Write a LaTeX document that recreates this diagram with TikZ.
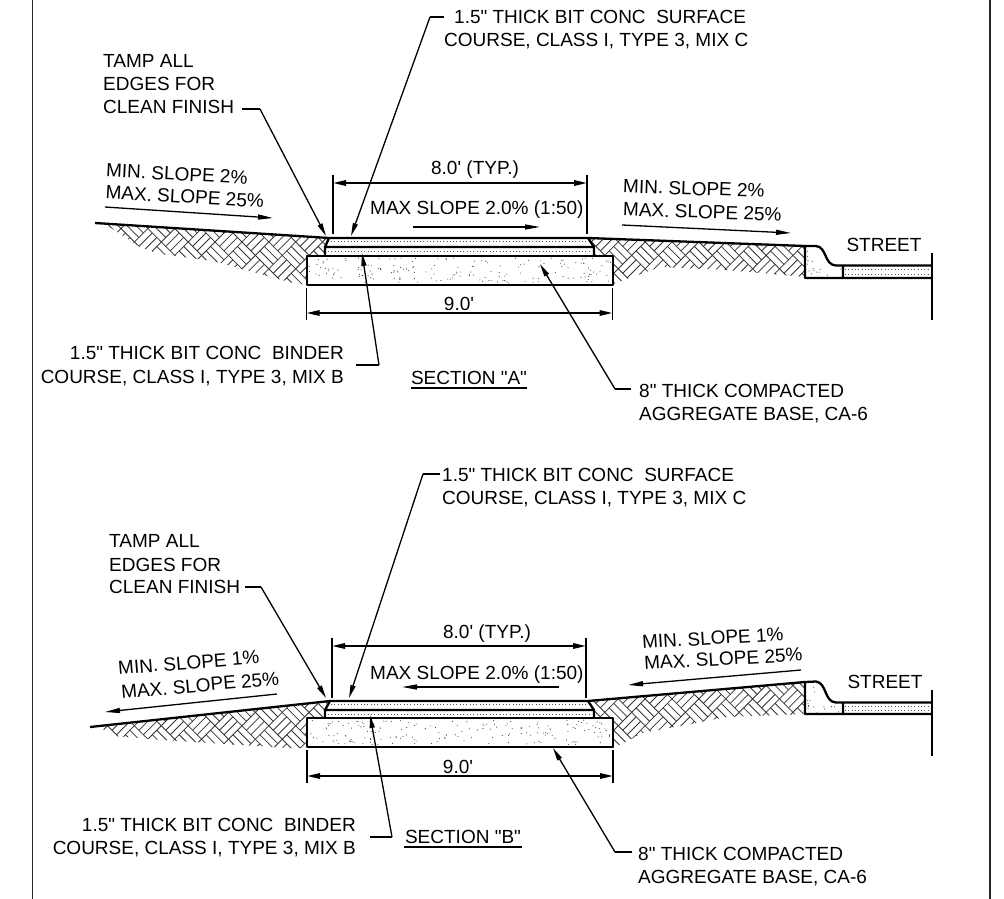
\documentclass[tikz,border=0pt]{standalone}
\usepackage{fontspec}
\usetikzlibrary{arrows.meta}
\newfontfamily\labfont{Liberation Sans}
\tikzset{
  x=1pt,y=-1pt,
  lab/.style={font=\labfont\fontsize{19}{23}\selectfont,inner sep=0pt,text height=13.6pt,text depth=0pt,text=black},
  lw/.style={lab,anchor=west},
  le/.style={lab,anchor=east},
  lc/.style={lab,anchor=center},
  heavy/.style={line width=2.3pt,black,line join=round},
  medium/.style={line width=1.3pt,black},
  thin line/.style={line width=1.1pt,black},
  hatchline/.style={line width=.8pt,black!80},
  dots/.style={line width=.9pt,black!65,dash pattern=on .9pt off 2.4pt},
  leader/.style={line width=1.3pt,black,-{Stealth[length=13pt,width=5pt,inset=0pt]}},
  plain/.style={line width=1.3pt,black},
  sl/.style={line width=1.3pt,black,-{Stealth[length=15pt,width=5pt,inset=0pt]}},
  dim/.style={line width=1.7pt,black,{Stealth[length=13pt,width=5.5pt,inset=0pt]}-{Stealth[length=13pt,width=5.5pt,inset=0pt]}},
}
\def\cc{13.44}
\newcommand{\soil}[4]{%
  \foreach \p in {#1,...,#2}{\foreach \q in {#3,...,#4}{
    \ifodd\numexpr\p+\q\relax\else
      \ifodd\p\relax
        \foreach \t in {0,0.333,0.667,1}
          \draw[hatchline,shift={({\p*\cc},{\q*\cc})}] ({\t*\cc},{-\t*\cc})--({\t*\cc+\cc},{-\t*\cc+\cc});
      \else
        \foreach \t in {0,0.333,0.667,1}
          \draw[hatchline,shift={({\p*\cc},{\q*\cc})}] ({\t*\cc},{\t*\cc})--({\t*\cc+\cc},{\t*\cc-\cc});
      \fi
    \fi
  }}}
% sand: #1 x, #2 y, #3 w, #4 h, #5 count
\newcommand{\sand}[5]{%
  \foreach \k in {1,...,#5}{
    \pgfmathsetmacro{\sx}{#1+rnd*#3}\pgfmathsetmacro{\sy}{#2+rnd*#4}
    \fill[black!75] (\sx,\sy) circle (.55pt);
  }}
\begin{document}
\begin{tikzpicture}
\pgfmathsetseed{4242}
\useasboundingbox (0,0) rectangle (1004,899);
\fill[white] (0,0) rectangle (1004,899);
% frame
\coordinate (ftl) at (32.5,0); \coordinate (fbl) at (32.5,899);
\coordinate (ftr) at (990,0); \coordinate (fbr) at (990,899);
\draw[line width=1.9pt,black!85] (ftl)--(fbl) (ftr)--(fbr);

% ================= SECTION A =================
\begin{scope}
  \clip (105,224)--(327,237)--(327,257)--(307,257)--(307,285)--(293,283)--(213,261)--(160,254)--(140,247)--cycle;
  \soil{6}{25}{15}{23}
\end{scope}
\begin{scope}
  \clip (588,238)--(805,246)--(805,277)--(727,270)--(660,267)--(613,284)--(594,257)--cycle;
  \soil{42}{61}{15}{23}
\end{scope}
% base and layers
\fill[white] (329,238)--(325,247)--(325,256)--(594,256)--(594,247)--(588,238)--cycle;
\draw[heavy,fill=white] (307,256) rectangle (613,285);
\sand{309}{258}{302}{25}{170}
\draw[dots] (331,241.5)--(586,241.5) (328,251.5)--(592,251.5);
\draw[heavy] (95,223)--(329,238)--(588,238)--(805,246)
   (329,238)--(325,247)--(325,256) (588,238)--(594,247)--(594,256)
   (325,247)--(594,247);
% curb and street
\fill[white] (805,246)--(816,246) .. controls (827,247) and (824,265) .. (836,265.5)--(843,265.5)--(843,278)--(805,278)--cycle;
\sand{807}{250}{8}{27}{9}
\sand{815}{268}{26}{9}{5}
\draw[heavy] (805,246)--(816,246) .. controls (827,247) and (824,265) .. (836,265.5)--(932,265.5)
  (805,246)--(805,278)--(932,278) (843,265.5)--(843,278);
\draw[dots] (845,269.5)--(930,269.5) (845,274)--(930,274);
\coordinate (sa1) at (932,253); \coordinate (sa2) at (932,320);
\draw[thin line] (sa1)--(sa2);
\node[lc] (streetA) at (884,245) {STREET};

% dims
\coordinate (da1t) at (333,175); \coordinate (da1b) at (333,234);
\coordinate (da2t) at (587,175); \coordinate (da2b) at (587,234);
\coordinate (da1) at (333,183); \coordinate (da2) at (587,183);
\draw[thin line] (da1t)--(da1b) (da2t)--(da2b);
\draw[dim] (da1)--(da2);
\node[lc] (typA) at (475,168) {8.0' (TYP.)};
\node[lw] (msA) at (370,208) {MAX SLOPE 2.0\% (1:50)};
\coordinate (maA1) at (413,227); \coordinate (maA2) at (540,227);
\draw[sl] (maA1)--(maA2);
\coordinate (db1t) at (306.5,288); \coordinate (db1b) at (306.5,320);
\coordinate (db2t) at (612.5,288); \coordinate (db2b) at (612.5,320);
\coordinate (db1) at (306.5,313); \coordinate (db2) at (612.5,313);
\draw[thin line] (db1t)--(db1b) (db2t)--(db2b);
\draw[dim] (db1)--(db2);
\node[lc] (nineA) at (459,304) {9.0'};

% slope labels
\node[lw,rotate=-3] (a1) at (106,170) {MIN. SLOPE 2\%};
\node[lw,rotate=-3.2] (a2) at (105.5,192) {MAX. SLOPE 25\%};
\coordinate (asl1) at (105,207); \coordinate (asl2) at (273,218);
\draw[sl] (asl1)--(asl2);
\node[lw,rotate=-1.9] (a3) at (623,186) {MIN. SLOPE 2\%};
\node[lw,rotate=-1.9] (a4) at (623,209) {MAX. SLOPE 25\%};
\coordinate (asr1) at (622,225); \coordinate (asr2) at (791,233);
\draw[sl] (asr1)--(asr2);

% notes
\node[lw] (sfA1) at (454,17) {1.5" THICK BIT CONC\ \ SURFACE};
\node[lw] (sfA2) at (444,40) {COURSE, CLASS I, TYPE 3, MIX C};
\coordinate (sfAa) at (444,17); \coordinate (sfAb) at (430,17); \coordinate (sfAt) at (351,236);
\draw[plain] (sfAa)--(sfAb);
\draw[leader] (sfAb)--(sfAt);
\node[lw] (tA1) at (103,61) {TAMP ALL};
\node[lw] (tA2) at (103,83.5) {EDGES FOR};
\node[lw] (tA3) at (103,107) {CLEAN FINISH};
\coordinate (tAa) at (242,109); \coordinate (tAb) at (260,109); \coordinate (tAt) at (326,236);
\draw[plain] (tAa)--(tAb);
\draw[leader] (tAb)--(tAt);
\node[le] (bA1) at (344,353) {1.5" THICK BIT CONC\ \ BINDER};
\node[le] (bA2) at (344,377) {COURSE, CLASS I, TYPE 3, MIX B};
\coordinate (bAa) at (356,365); \coordinate (bAb) at (379,365); \coordinate (bAt) at (362,253);
\draw[plain] (bAa)--(bAb);
\draw[leader] (bAb)--(bAt);
\node[lc] (secA) at (469,378) {SECTION "A"};
\coordinate (uA1) at (411,388); \coordinate (uA2) at (527,388);
\draw[medium] (uA1)--(uA2);
\node[lw] (cA1) at (639,391) {8" THICK COMPACTED};
\node[lw] (cA2) at (639,414) {AGGREGATE BASE, CA-6};
\coordinate (cAa) at (631,389); \coordinate (cAb) at (615,389); \coordinate (cAt) at (540,264);
\draw[plain] (cAa)--(cAb);
\draw[leader] (cAb)--(cAt);

% ================= SECTION B =================
\begin{scope}
  \clip (100,727)--(327,701)--(327,719)--(307,719)--(307,748)--(287,748)--(163,740)--(113,736)--cycle;
  \soil{6}{25}{49}{57}
\end{scope}
\begin{scope}
  \clip (588,701)--(805,682)--(805,714)--(727,717)--(643,733)--(613,748)--(594,719)--cycle;
  \soil{42}{61}{49}{57}
\end{scope}
\fill[white] (330,701)--(325,710)--(325,718)--(594,718)--(594,710)--(588,701)--cycle;
\draw[heavy,fill=white] (307,718) rectangle (613,747);
\sand{309}{720}{302}{25}{170}
\draw[dots] (331,704.5)--(586,704.5) (328,714)--(592,714);
\draw[heavy] (90,727)--(330,701)--(588,701)--(805,682)
   (330,701)--(325,710)--(325,718) (588,701)--(594,710)--(594,718)
   (325,710)--(594,710);
\fill[white] (805,682)--(816,681.5) .. controls (827,683) and (824,702) .. (836,702.5)--(843,702.5)--(843,714)--(805,714)--cycle;
\sand{807}{686}{8}{27}{9}
\sand{815}{705}{26}{8}{6}
\draw[heavy] (805,682)--(816,681.5) .. controls (827,683) and (824,702) .. (836,702.5)--(932,702.5)
  (805,682)--(805,714)--(932,714) (843,702.5)--(843,714);
\draw[dots] (845,706)--(930,706) (845,710.5)--(930,710.5);
\coordinate (sb1) at (932,690); \coordinate (sb2) at (932,756);
\draw[thin line] (sb1)--(sb2);
\node[lc] (streetB) at (885,682) {STREET};

\coordinate (dc1t) at (332,638); \coordinate (dc1b) at (332,698);
\coordinate (dc2t) at (586,638); \coordinate (dc2b) at (586,698);
\coordinate (dc1) at (332,646); \coordinate (dc2) at (586,646);
\draw[thin line] (dc1t)--(dc1b) (dc2t)--(dc2b);
\draw[dim] (dc1)--(dc2);
\node[lc] (typB) at (487,632) {8.0' (TYP.)};
\node[lw] (msB) at (370,673) {MAX SLOPE 2.0\% (1:50)};
\coordinate (maB1) at (559,687); \coordinate (maB2) at (402,687);
\draw[sl] (maB1)--(maB2);
\coordinate (dd1t) at (307,750); \coordinate (dd1b) at (307,783);
\coordinate (dd2t) at (613,750); \coordinate (dd2b) at (613,783);
\coordinate (dd1) at (307,776); \coordinate (dd2) at (613,776);
\draw[thin line] (dd1t)--(dd1b) (dd2t)--(dd2b);
\draw[dim] (dd1)--(dd2);
\node[lc] (nineB) at (458,767) {9.0'};

\node[lw,rotate=4.6] (b1) at (118,668) {MIN. SLOPE 1\%};
\node[lw,rotate=5] (b2) at (121,692) {MAX. SLOPE 25\%};
\coordinate (bsl1) at (277,694); \coordinate (bsl2) at (105,712);
\draw[sl] (bsl1)--(bsl2);
\node[lw,rotate=3.4] (b3) at (642,642) {MIN. SLOPE 1\%};
\node[lw,rotate=3.2] (b4) at (644,663) {MAX. SLOPE 25\%};
\coordinate (bsr1) at (801,670); \coordinate (bsr2) at (628,685);
\draw[sl] (bsr1)--(bsr2);

\node[lw] (sfB1) at (442,475) {1.5" THICK BIT CONC\ \ SURFACE};
\node[lw] (sfB2) at (442,498) {COURSE, CLASS I, TYPE 3, MIX C};
\coordinate (sfBa) at (440,474); \coordinate (sfBb) at (423,474); \coordinate (sfBt) at (349,698);
\draw[plain] (sfBa)--(sfBb);
\draw[leader] (sfBb)--(sfBt);
\node[lw] (tB1) at (109,541) {TAMP ALL};
\node[lw] (tB2) at (109,565) {EDGES FOR};
\node[lw] (tB3) at (109,587) {CLEAN FINISH};
\coordinate (tBa) at (245,587); \coordinate (tBb) at (261,587); \coordinate (tBt) at (326,698);
\draw[plain] (tBa)--(tBb);
\draw[leader] (tBb)--(tBt);
\node[le] (bB1) at (356,825) {1.5" THICK BIT CONC\ \ BINDER};
\node[le] (bB2) at (356,848) {COURSE, CLASS I, TYPE 3, MIX B};
\coordinate (bBa) at (370,837); \coordinate (bBb) at (392,837); \coordinate (bBt) at (370,715);
\draw[plain] (bBa)--(bBb);
\draw[leader] (bBb)--(bBt);
\node[lc] (secB) at (463,837) {SECTION "B"};
\coordinate (uB1) at (404,847); \coordinate (uB2) at (522,847);
\draw[medium] (uB1)--(uB2);
\node[lw] (cB1) at (638,854) {8" THICK COMPACTED};
\node[lw] (cB2) at (638,877) {AGGREGATE BASE, CA-6};
\coordinate (cBa) at (632,852); \coordinate (cBb) at (615,852); \coordinate (cBt) at (553,748);
\draw[plain] (cBa)--(cBb);
\draw[leader] (cBb)--(cBt);
\end{tikzpicture}
\end{document}
